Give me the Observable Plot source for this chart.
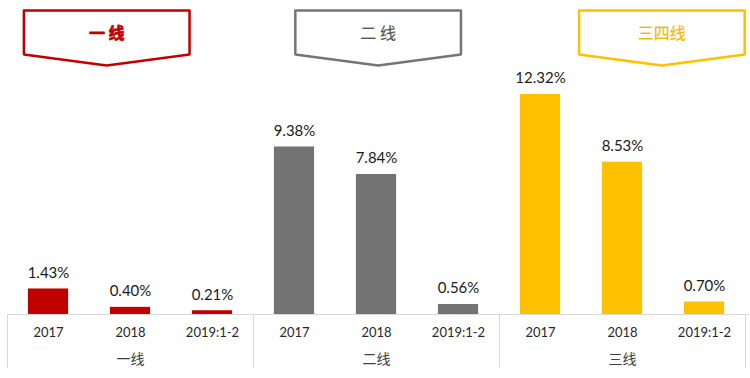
<!DOCTYPE html>
<html><head><meta charset="utf-8">
<script src="https://cdn.jsdelivr.net/npm/d3@7"></script>
<script src="https://cdn.jsdelivr.net/npm/@observablehq/plot@0.6"></script>
<style>body{margin:0;background:#fff}svg{display:block}</style>
</head><body><div id="chart"></div>
<script>
const groups = ["一线", "二线", "三线"];
const bannerLabels = ["一 线", "二 线", "三四线"];
const periods = ["2017", "2018", "2019:1-2"];
const values1 = [1.43, 0.40, 0.21];
const values2 = [9.38, 7.84, 0.56];
const values3 = [12.32, 8.53, 0.70];
const colors = ["#C00000", "#737373", "#FFC000"];
const bannerStroke = ["#C00000", "#757575", "#FFC000"];
const bannerText = ["#C00000", "#595959", "#F5B800"];

// layout
const W = 750, H = 378;
const bannerCenter = [1.21, 4.52, 7.98], bannerHalf = 1.01;
const yMax = 17.58;

const series = [values1, values2, values3];
const rows = [];
series.forEach((vals, g) => vals.forEach((v, i) => rows.push({
  group: groups[g], period: periods[i], value: v, slot: g * 3 + i, color: colors[g]
})));

const bannerPts = [];
bannerCenter.forEach((c, g) => {
  const pts = [[c - bannerHalf, 17.02], [c + bannerHalf, 17.02], [c + bannerHalf, 14.56], [c, 13.94], [c - bannerHalf, 14.56], [c - bannerHalf, 17.02], [c + bannerHalf, 17.02]];
  pts.forEach(([x, y]) => bannerPts.push({g, x, y, stroke: bannerStroke[g]}));
});
const banners = bannerCenter.map((c, g) => ({x: c, label: bannerLabels[g], color: bannerText[g], g}));

const fontLat = "Lato, 'Noto Sans CJK SC', sans-serif";
const cjk = "'Noto Sans CJK SC', sans-serif";
const plot = Plot.plot({
  width: W, height: H,
  marginLeft: 7, marginRight: 5, marginTop: 0, marginBottom: 64,
  x: {domain: [0, 9], axis: null},
  y: {domain: [0, yMax], axis: null},
  style: {fontFamily: fontLat, background: "#fff"},
  marks: [
    Plot.ruleY([0], {x1: 0, x2: 9.06, stroke: "#d9d9d9", strokeWidth: 1}),
    Plot.ruleX([0, 3, 6, 9], {y1: 0, y2: -3.02, stroke: "#d9d9d9", strokeWidth: 1}),
    Plot.rectY(rows, {x1: d => d.slot + 0.255, x2: d => d.slot + 0.745, y1: 0, y2: "value", fill: "color"}),
    Plot.text(rows, {x: d => d.slot + 0.5, y: "value", dy: -16, text: d => d.value.toFixed(2) + "%", fontSize: 15, fill: "#1a1a1a"}),
    Plot.text(rows, {x: d => d.slot + 0.5, y: -1.0, text: "period", fontSize: 13, fill: "#262626"}),
    Plot.text(groups, {x: (d, i) => i * 3 + 1.5, y: -2.52, text: d => d, fontSize: 14, fill: "#404040", fontFamily: cjk}),
    Plot.line(bannerPts, {x: "x", y: "y", z: "g", stroke: "stroke", strokeWidth: 2.5, fill: "#fff", strokeLinejoin: "miter", curve: "linear"}),
    Plot.text(banners.filter(d => d.g === 0), {x: "x", y: 15.73, text: "label", fill: "color", stroke: "color", strokeWidth: 0.7, fontSize: 16, fontWeight: "bold", fontFamily: cjk}),
    Plot.text(banners.filter(d => d.g !== 0), {x: "x", y: 15.73, text: "label", fill: "color", stroke: "color", strokeWidth: 0.2, fontSize: 16, fontFamily: cjk})
  ]
});
document.getElementById("chart").appendChild(plot);
</script></body></html>
